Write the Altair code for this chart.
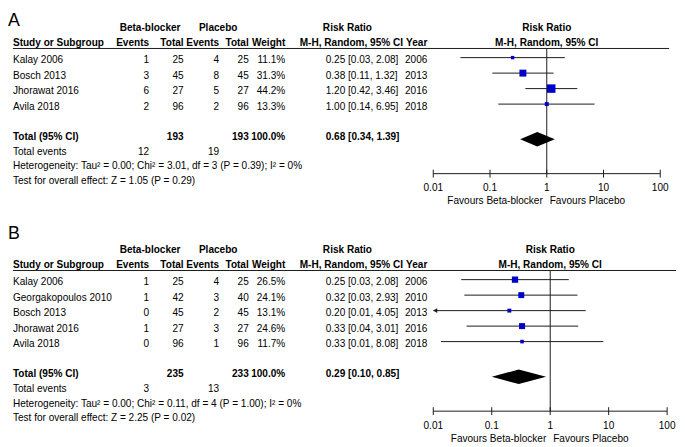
import altair as alt
import pandas as pd

# ---------------- data: panel A ----------------
A_study = ["Kalay 2006", "Bosch 2013", "Jhorawat 2016", "Avila 2018"]
A_bb_events = [1, 3, 6, 2]
A_bb_total = [25, 45, 27, 96]
A_pl_events = [4, 8, 5, 2]
A_pl_total = [25, 45, 27, 96]
A_weight = [11.1, 31.3, 44.2, 13.3]
A_rr = [0.25, 0.38, 1.20, 1.00]
A_lo = [0.03, 0.11, 0.42, 0.14]
A_hi = [2.08, 1.32, 3.46, 6.95]
A_year = [2006, 2013, 2016, 2018]
A_pooled = [0.68, 0.34, 1.39]
A_sum_total = [193, 193]
A_sum_weight = 100.0
A_sum_events = [12, 19]
A_het = "Heterogeneity: Tau² = 0.00; Chi² = 3.01, df = 3 (P = 0.39); I² = 0%"
A_test = "Test for overall effect: Z = 1.05 (P = 0.29)"

# ---------------- data: panel B ----------------
B_study = ["Kalay 2006", "Georgakopoulos 2010", "Bosch 2013", "Jhorawat 2016", "Avila 2018"]
B_bb_events = [1, 1, 0, 1, 0]
B_bb_total = [25, 42, 45, 27, 96]
B_pl_events = [4, 3, 2, 3, 1]
B_pl_total = [25, 40, 45, 27, 96]
B_weight = [26.5, 24.1, 13.1, 24.6, 11.7]
B_rr = [0.25, 0.32, 0.20, 0.33, 0.33]
B_lo = [0.03, 0.034, 0.0098, 0.037, 0.0135]
B_hi = [2.08, 2.93, 4.05, 3.01, 8.08]
B_year = [2006, 2010, 2013, 2016, 2018]
B_pooled = [0.29, 0.10, 0.85]
B_sum_total = [235, 233]
B_sum_weight = 100.0
B_sum_events = [3, 13]
B_het = "Heterogeneity: Tau² = 0.00; Chi² = 0.11, df = 4 (P = 1.00); I² = 0%"
B_test = "Test for overall effect: Z = 2.25 (P = 0.02)"

TICKS = [0.01, 0.1, 1, 10, 100]
TICK_LABELS = ["0.01", "0.1", "1", "10", "100"]

# ---------------- style / layout ----------------
FONT = "Liberation Sans, Arial, sans-serif"
FS = 10.2
BLUE = "#0000c8"
LINE = "#1a1a1a"

COLS = {
    "study": (5, "left"),
    "bbE": (143, "right"),
    "bbT": (178, "right"),
    "plE": (214, "right"),
    "plT": (244, "right"),
    "wt": (281, "right"),
    "ci": (322, "left"),
    "h_ci": (348, "center"),
    "year": (425, "right"),
    "h_bb": (144, "center"),
    "h_pl": (213, "center"),
    "h_rr": (344, "center"),
}

R_H1, R_H2, R_UL = -2.1, -1.08, -0.76
FOREST_SHIFT = -0.17


def fmt_ci(e, l, h):
    return f"{e:.2f} [{l:.2f}, {h:.2f}]"


def panel(letter, letter_row, study, bbE, bbT, plE, plT, wt, rr, lo, hi, year,
          pooled, sum_total, sum_weight, sum_events, het, test,
          x_right, ul_right, height):
    n = len(study)
    r_total = n + 0.95
    r_diamond = n + 1.1
    r_events = n + 1.9
    r_het = n + 2.83
    r_test = n + 3.77
    r_axis = n + 3.32
    r_tick = n + 4.25
    r_fav = n + 5.1

    yscale = alt.Scale(domain=[0, 1], range=[49, 64.7], nice=False, zero=False)
    y = alt.Y("row:Q", scale=yscale, axis=None)
    xs = alt.Scale(type="log", domain=[0.01, 100], range=[431, x_right])

    cells = []

    def add(col, row, text, bold=False):
        cells.append({"col": col, "row": row, "text": str(text), "bold": bold})

    add("h_bb", R_H1, "Beta-blocker", True)
    add("h_pl", R_H1, "Placebo", True)
    add("h_rr", R_H1, "Risk Ratio", True)
    for c, t in [("study", "Study or Subgroup"), ("bbE", "Events"), ("bbT", "Total"),
                 ("plE", "Events"), ("plT", "Total"), ("wt", "Weight"),
                 ("h_ci", "M-H, Random, 95% CI"), ("year", "Year")]:
        add(c, R_H2, t, True)
    for i in range(n):
        add("study", i, study[i])
        add("bbE", i, bbE[i])
        add("bbT", i, bbT[i])
        add("plE", i, plE[i])
        add("plT", i, plT[i])
        add("wt", i, f"{wt[i]:.1f}%")
        add("ci", i, fmt_ci(rr[i], lo[i], hi[i]))
        add("year", i, year[i])
    add("study", r_total, "Total (95% CI)", True)
    add("bbT", r_total, sum_total[0], True)
    add("plT", r_total, sum_total[1], True)
    add("wt", r_total, f"{sum_weight:.1f}%", True)
    add("ci", r_total, fmt_ci(*pooled), True)
    add("study", r_events, "Total events")
    add("bbE", r_events, sum_events[0])
    add("plE", r_events, sum_events[1])
    add("study", r_het, het)
    add("study", r_test, test)
    cdf = pd.DataFrame(cells)

    layers = []
    for col, (xpx, align) in COLS.items():
        for bold in (False, True):
            sub = cdf[(cdf.col == col) & (cdf.bold == bold)]
            if len(sub) == 0:
                continue
            layers.append(
                alt.Chart(sub).mark_text(align=align, baseline="middle", font=FONT, fontSize=FS,
                                         fontWeight="bold" if bold else "normal", color="black")
                .encode(x=alt.value(xpx), y=y, text="text:N")
            )

    # panel letter
    layers.append(
        alt.Chart(pd.DataFrame({"row": [letter_row], "text": [letter]}))
        .mark_text(align="left", baseline="middle", font="Liberation Sans, Arial", fontSize=18, color="black")
        .encode(x=alt.value(0), y=y, text="text:N")
    )

    # header underline
    layers.append(
        alt.Chart(pd.DataFrame({"row": [R_UL]})).mark_rule(color=LINE, strokeWidth=1)
        .encode(x=alt.value(5), x2=alt.value(ul_right), y=y)
    )

    # forest header
    layers.append(
        alt.Chart(pd.DataFrame({"v": [1, 1], "row": [R_H1, R_H2], "text": ["Risk Ratio", "M-H, Random, 95% CI"]}))
        .mark_text(align="center", baseline="middle", font=FONT, fontSize=FS, fontWeight="bold", color="black")
        .encode(x=alt.X("v:Q", scale=xs, axis=None), y=y, text="text:N")
    )

    # line of no effect
    layers.append(
        alt.Chart(pd.DataFrame({"v": [1], "row": [R_UL], "row2": [r_axis]}))
        .mark_rule(color=LINE, strokeWidth=1)
        .encode(x=alt.X("v:Q", scale=xs, axis=None), y=y, y2="row2:Q")
    )

    sdf = pd.DataFrame({
        "row": [i + FOREST_SHIFT for i in range(n)],
        "rr": rr,
        "lo": [max(v, 0.01) for v in lo],
        "hi": hi,
        "wt": wt,
        "clipped": [v < 0.01 for v in lo],
    })
    layers.append(
        alt.Chart(sdf).mark_rule(color=LINE, strokeWidth=1)
        .encode(x=alt.X("lo:Q", scale=xs, axis=None), x2="hi:Q", y=y)
    )
    layers.append(
        alt.Chart(sdf).mark_square(color=BLUE, filled=True, opacity=1)
        .encode(x=alt.X("rr:Q", scale=xs, axis=None), y=y,
                size=alt.Size("wt:Q", scale=alt.Scale(domain=[10, 45], range=[10, 75]), legend=None))
    )
    adf = sdf[sdf.clipped]
    if len(adf):
        layers.append(
            alt.Chart(adf).mark_point(shape="triangle-left", filled=True, size=22, color=LINE, opacity=1, xOffset=2)
            .encode(x=alt.X("lo:Q", scale=xs, axis=None), y=y)
        )

    # pooled diamond
    rt = r_diamond
    hh = 0.47
    ddf = pd.DataFrame({"v": [pooled[1], pooled[0], pooled[2]],
                        "row": [rt, rt - hh, rt], "row2": [rt, rt + hh, rt]})
    layers.append(
        alt.Chart(ddf).mark_area(color="black", opacity=1)
        .encode(x=alt.X("v:Q", scale=xs, axis=None), y=y, y2="row2:Q")
    )

    # axis
    layers.append(
        alt.Chart(pd.DataFrame({"v": [TICKS[0]], "v2": [TICKS[-1]], "row": [r_axis]}))
        .mark_rule(color=LINE, strokeWidth=1)
        .encode(x=alt.X("v:Q", scale=xs, axis=None), x2="v2:Q", y=y)
    )
    tdf = pd.DataFrame({"v": TICKS, "row": [r_axis] * len(TICKS), "lrow": [r_tick] * len(TICKS), "text": TICK_LABELS})
    layers.append(
        alt.Chart(tdf).mark_rule(color=LINE, strokeWidth=1, yOffset=-4, y2Offset=4)
        .encode(x=alt.X("v:Q", scale=xs, axis=None), y=y, y2="row:Q")
    )
    layers.append(
        alt.Chart(tdf).mark_text(align="center", baseline="middle", font=FONT, fontSize=FS, color="black")
        .encode(x=alt.X("v:Q", scale=xs, axis=None), y=alt.Y("lrow:Q", scale=yscale, axis=None), text="text:N")
    )
    fdf = pd.DataFrame({"v": [1], "row": [r_fav]})
    layers.append(
        alt.Chart(fdf).mark_text(align="right", baseline="middle", font=FONT, fontSize=FS, color="black", dx=-4,
                                 text="Favours Beta-blocker")
        .encode(x=alt.X("v:Q", scale=xs, axis=None), y=y)
    )
    layers.append(
        alt.Chart(fdf).mark_text(align="left", baseline="middle", font=FONT, fontSize=FS, color="black", dx=3,
                                 text="Favours Placebo")
        .encode(x=alt.X("v:Q", scale=xs, axis=None), y=y)
    )

    return alt.layer(*layers).properties(width=677, height=height)


panelA = panel("A", -2.55, A_study, A_bb_events, A_bb_total, A_pl_events, A_pl_total, A_weight,
               A_rr, A_lo, A_hi, A_year, A_pooled, A_sum_total, A_sum_weight, A_sum_events, A_het, A_test,
               x_right=661, ul_right=670, height=225)
panelB = panel("B", -3.1, B_study, B_bb_events, B_bb_total, B_pl_events, B_pl_total, B_weight,
               B_rr, B_lo, B_hi, B_year, B_pooled, B_sum_total, B_sum_weight, B_sum_events, B_het, B_test,
               x_right=668, ul_right=677, height=214)

chart = (
    alt.vconcat(panelA, panelB, spacing=0, bounds="flush")
    .properties(padding=0, background="white")
    .configure_view(strokeWidth=0)
)

chart.save("out.html", embed_options={"renderer": "svg", "actions": False})
